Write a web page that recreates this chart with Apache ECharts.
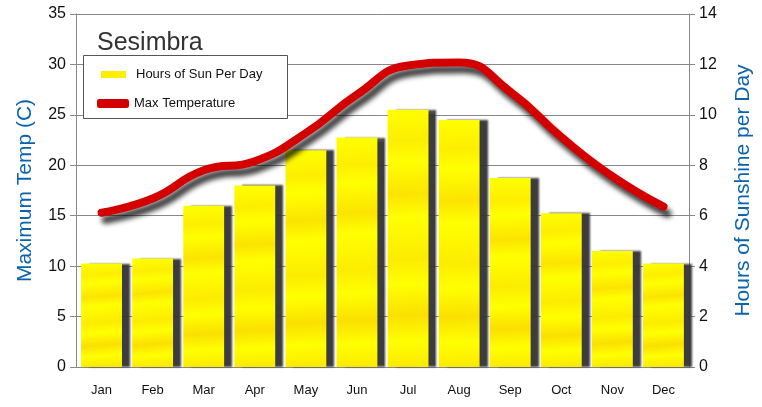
<!DOCTYPE html>
<html>
<head>
<meta charset="utf-8">
<script src="https://cdn.jsdelivr.net/npm/echarts@6/dist/echarts.min.js"></script>
<style>
  html, body { margin: 0; padding: 0; background: #fff; }
  #chart { width: 762px; height: 407px; }
</style>
</head>
<body>
<div id="chart"></div>
<script>
// data
const months = ["Jan", "Feb", "Mar", "Apr", "May", "Jun", "Jul", "Aug", "Sep", "Oct", "Nov", "Dec"];
const sunHours = [4.1, 4.3, 6.4, 7.2, 8.6, 9.1, 10.2, 9.8, 7.5, 6.1, 4.6, 4.1];
const maxTemp = [15.3, 16.7, 19.5, 20.4, 23.2, 27.0, 29.9, 30.2, 27.3, 22.8, 18.9, 15.9];

const font = "'Liberation Sans Narrow', 'Liberation Sans', sans-serif";
const blue = "#0a63ad";
const grey = "#888";

// streaky yellow fill for the bars
const sunFill = new echarts.graphic.LinearGradient(0, 0, 0.2, 1, [
  { offset: 0, color: "#ffff00" },
  { offset: 0.12, color: "#fdee00" },
  { offset: 0.2, color: "#ffff00" },
  { offset: 0.33, color: "#fbe400" },
  { offset: 0.42, color: "#ffff00" },
  { offset: 0.58, color: "#fcec00" },
  { offset: 0.68, color: "#ffff00" },
  { offset: 0.8, color: "#fae000" },
  { offset: 0.9, color: "#ffff00" },
  { offset: 1, color: "#fcea00" },
]);

const chart = echarts.init(document.getElementById("chart"));
chart.setOption({
  animation: false,
  backgroundColor: "#fff",
  textStyle: { fontFamily: font },
  title: {
    text: "Sesimbra",
    left: 92,
    top: 26,
    textStyle: { fontSize: 25, fontWeight: "normal", color: "#333", fontFamily: font },
  },
  graphic: [
    {
      type: "rect",
      z: 5,
      shape: { x: 83.5, y: 55.5, width: 204, height: 63 },
      style: { fill: "#fff", stroke: "#555", lineWidth: 1 },
    },
  ],
  legend: [
    {
      z: 6,
      left: 96,
      top: 63,
      icon: "rect",
      itemWidth: 25,
      itemHeight: 7,
      selectedMode: false,
      data: [{ name: "Hours of Sun Per Day", itemStyle: { color: "#ffee00" } }],
      itemStyle: { shadowBlur: 0, shadowOffsetX: 0, shadowOffsetY: 0, shadowColor: "transparent" },
      textStyle: { fontSize: 13, color: "#111", fontFamily: font, padding: [0, 0, 0, 5] },
    },
    {
      z: 6,
      left: 92,
      top: 92,
      icon: "roundRect",
      itemWidth: 32,
      itemHeight: 9,
      selectedMode: false,
      data: [{ name: "Max Temperature", itemStyle: { color: "#d40000" } }],
      itemStyle: { shadowBlur: 0, shadowOffsetX: 0, shadowOffsetY: 0, shadowColor: "transparent" },
      lineStyle: { shadowBlur: 0, shadowOffsetX: 0, shadowOffsetY: 0, shadowColor: "transparent" },
      textStyle: { fontSize: 13, color: "#111", fontFamily: font },
    },
  ],
  grid: { left: 76, right: 70, top: 14, bottom: 40 },
  xAxis: {
    type: "category",
    data: months,
    boundaryGap: true,
    axisLine: { lineStyle: { color: grey } },
    axisTick: { alignWithLabel: false, length: 6, lineStyle: { color: grey } },
    axisLabel: { color: "#111", fontSize: 13, margin: 17, fontFamily: font },
  },
  yAxis: [
    {
      type: "value",
      min: 0,
      max: 35,
      interval: 5,
      position: "left",
      name: "Maximum Temp (C)",
      nameLocation: "middle",
      nameRotate: 90,
      nameGap: 40,
      nameTextStyle: { color: blue, fontSize: 21, fontFamily: font },
      axisLine: { show: true, lineStyle: { color: grey } },
      axisTick: { show: true, length: 6, lineStyle: { color: grey } },
      axisLabel: { color: "#111", fontSize: 16, margin: 10, fontFamily: font },
      splitLine: { lineStyle: { color: grey } },
    },
    {
      type: "value",
      min: 0,
      max: 14,
      interval: 2,
      position: "right",
      name: "Hours of Sunshine per Day",
      nameLocation: "middle",
      nameRotate: 90,
      nameGap: 44,
      nameTextStyle: { color: blue, fontSize: 21, fontFamily: font },
      axisLine: { show: true, lineStyle: { color: grey } },
      axisTick: { show: true, length: 6, lineStyle: { color: grey } },
      axisLabel: { color: "#111", fontSize: 16, margin: 10, fontFamily: font },
      splitLine: { show: false },
    },
  ],
  series: [
    {
      name: "Hours of Sun Per Day",
      type: "bar",
      yAxisIndex: 1,
      data: sunHours,
      barWidth: "80%",
      itemStyle: {
        color: sunFill,
        shadowColor: "rgba(50,50,50,0.95)",
        shadowBlur: 2,
        shadowOffsetX: 8,
        shadowOffsetY: 0,
      },
    },
    {
      name: "Max Temperature",
      type: "line",
      yAxisIndex: 0,
      data: maxTemp,
      smooth: 0.5,
      showSymbol: false,
      symbol: "none",
      itemStyle: { color: "#d40000" },
      lineStyle: {
        color: "#d40000",
        width: 8,
        cap: "round",
        shadowColor: "rgba(0,0,0,0.75)",
        shadowBlur: 5,
        shadowOffsetX: 4,
        shadowOffsetY: 7,
      },
      z: 3,
    },
  ],
});
</script>
</body>
</html>
